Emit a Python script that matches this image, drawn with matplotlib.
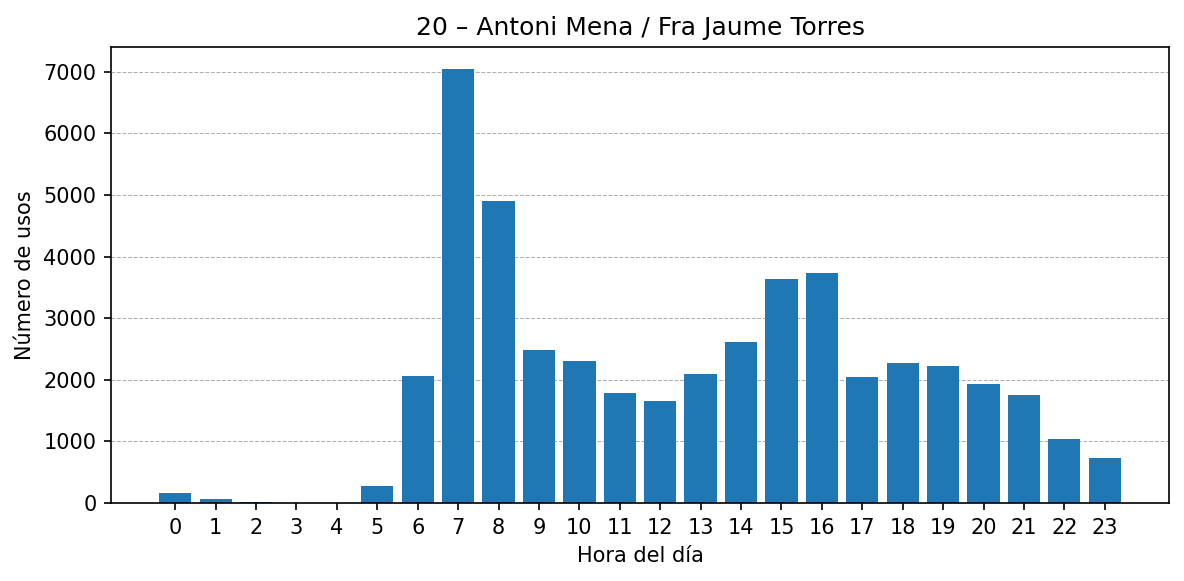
import matplotlib
matplotlib.use("Agg")
import matplotlib.pyplot as plt

hours = list(range(24))
usos = [160, 65, 10, 5, 5, 270, 2055, 7050, 4910, 2490, 2310, 1780, 1650, 2100,
        2610, 3630, 3740, 2050, 2280, 2230, 1930, 1750, 1040, 730]

fig = plt.figure(figsize=(1184/150, 581/150), dpi=150)
ax = fig.add_axes([111/1184, 1 - 503/581, (1169-111)/1184, (503-47)/581])
ax.bar(hours, usos, color="#1f77b4")
ax.set_xticks(hours)
ax.set_title("20 – Antoni Mena / Fra Jaume Torres")
ax.set_xlabel("Hora del día")
ax.set_ylabel("Número de usos")
ax.grid(axis="y", linestyle="--", linewidth=0.5)
ax.set_axisbelow(True)
fig.savefig("out.png", dpi=150)
